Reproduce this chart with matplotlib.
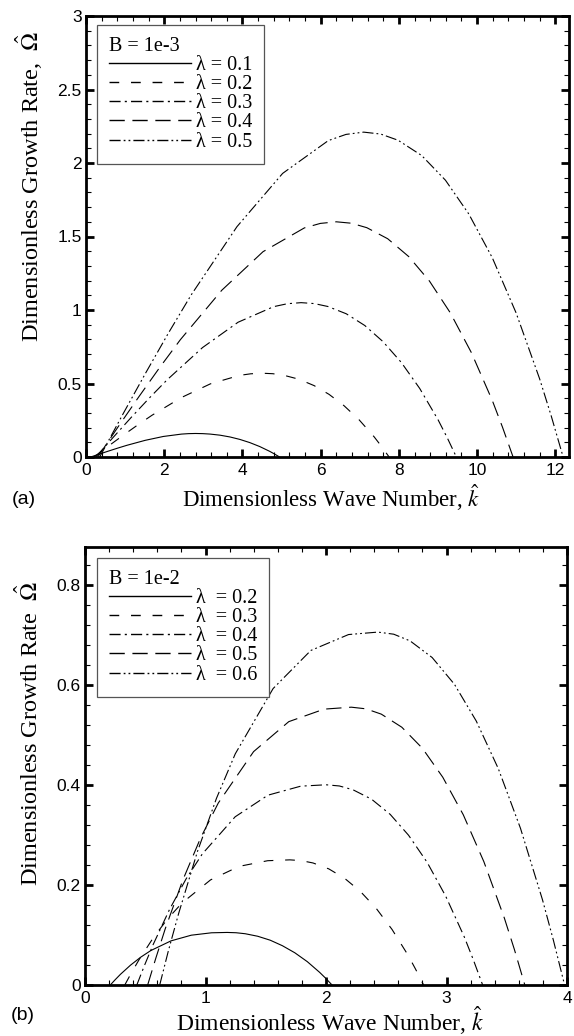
import matplotlib
matplotlib.use("Agg")
import matplotlib.pyplot as plt
from matplotlib.ticker import MultipleLocator, FuncFormatter

plt.rcParams['mathtext.fontset'] = 'stix'
plt.rcParams['lines.scale_dashes'] = False

# ---------------- data: panel (a), B = 1e-3 ----------------
a_title = "B = 1e-3"
a_labels = ["λ = 0.1", "λ = 0.2", "λ = 0.3", "λ = 0.4", "λ = 0.5"]

a_k1 = [0.12, 0.227, 0.352, 0.584, 0.817, 1.049, 1.514, 1.977, 2.441, 2.620, 2.8,
        2.983, 3.171, 3.425, 3.682, 3.933, 4.187, 4.443, 4.696, 4.821, 4.95]
a_w1 = [0, 0.0096, 0.0208, 0.0411, 0.061, 0.0798, 0.1134, 0.1397, 0.1558, 0.1589, 0.16,
        0.1590, 0.156, 0.1485, 0.1363, 0.1197, 0.0981, 0.071, 0.0386, 0.0203, 0]

a_k2 = [0.2, 0.372, 0.572, 0.944, 1.318, 1.69, 2.436, 3.18, 3.924, 4.212, 4.5,
        4.776, 5.061, 5.445, 5.833, 6.213, 6.596, 6.983, 7.367, 7.555, 7.75]
a_w2 = [0, 0.0342, 0.0741, 0.1465, 0.2172, 0.2844, 0.4041, 0.4976, 0.5552, 0.566, 0.57,
        0.5666, 0.5558, 0.529, 0.4856, 0.4264, 0.3494, 0.2531, 0.1374, 0.0724, 0]

a_k3 = [0.25, 0.46, 0.705, 1.158, 1.615, 2.07, 2.98, 3.888, 4.797, 5.148, 5.5,
        5.837, 6.185, 6.654, 7.128, 7.592, 8.061, 8.533, 9.002, 9.232, 9.47]
a_w3 = [0, 0.063, 0.1365, 0.2699, 0.4, 0.524, 0.7445, 0.9167, 1.0227, 1.0427, 1.05,
        1.0437, 1.0238, 0.9744, 0.8946, 0.7854, 0.6437, 0.4662, 0.2531, 0.1334, 0]

a_k4 = [0.3, 0.544, 0.828, 1.355, 1.886, 2.414, 3.472, 4.527, 5.583, 5.991, 6.4,
        6.784, 7.18, 7.714, 8.253, 8.782, 9.315, 9.853, 10.387, 10.649, 10.92]
a_w4 = [0, 0.096, 0.208, 0.4112, 0.6096, 0.7984, 1.1344, 1.3968, 1.5584, 1.589, 1.6,
        1.5904, 1.56, 1.4848, 1.3632, 1.1968, 0.9808, 0.7104, 0.3856, 0.2032, 0]

a_k5 = [0.35, 0.62, 0.935, 1.518, 2.105, 2.69, 3.86, 5.028, 6.196, 6.648, 7.1,
        7.534, 7.98, 8.583, 9.191, 9.788, 10.39, 10.996, 11.598, 11.894, 12.2]
a_w5 = [0, 0.1326, 0.2873, 0.568, 0.842, 1.1028, 1.5669, 1.9293, 2.1525, 2.1945, 2.21,
        2.197, 2.1548, 2.0509, 1.8829, 1.6531, 1.3547, 0.9812, 0.5326, 0.2807, 0]

# ---------------- data: panel (b), B = 1e-2 ----------------
b_title = "B = 1e-2"
b_labels = ["λ  = 0.2", "λ  = 0.3", "λ  = 0.4", "λ  = 0.5", "λ  = 0.6"]

b_k1 = [0.21, 0.249, 0.294, 0.378, 0.462, 0.546, 0.714, 0.882, 1.05, 1.18,
        1.254, 1.330, 1.433, 1.537, 1.638, 1.741, 1.845, 1.947, 1.998, 2.05]
b_w1 = [0, 0.0102, 0.0213, 0.0397, 0.0555, 0.0688, 0.0882, 0.0995, 0.1043, 0.105,
        0.1044, 0.1024, 0.0974, 0.0895, 0.0785, 0.0644, 0.0466, 0.0253, 0.0133, 0]

b_k2 = [0.33, 0.385, 0.449, 0.567, 0.686, 0.805, 1.042, 1.279, 1.516, 1.70,
        1.794, 1.892, 2.023, 2.155, 2.285, 2.416, 2.548, 2.679, 2.743, 2.81]
b_w2 = [0, 0.0243, 0.0507, 0.0945, 0.1323, 0.1638, 0.21, 0.237, 0.2483, 0.25,
        0.2485, 0.2438, 0.232, 0.213, 0.187, 0.1533, 0.111, 0.0603, 0.0318, 0]

b_k3 = [0.43, 0.493, 0.566, 0.702, 0.838, 0.974, 1.246, 1.518, 1.79, 2.0,
        2.111, 2.224, 2.378, 2.533, 2.685, 2.839, 2.993, 3.147, 3.222, 3.30]
b_w3 = [0, 0.0388, 0.081, 0.1512, 0.2116, 0.262, 0.336, 0.3792, 0.3972, 0.40,
        0.3976, 0.39, 0.3712, 0.3408, 0.2992, 0.2452, 0.1776, 0.0964, 0.0508, 0]

b_k4 = [0.52, 0.588, 0.666, 0.812, 0.959, 1.106, 1.399, 1.691, 1.984, 2.21,
        2.332, 2.459, 2.629, 2.8, 2.969, 3.139, 3.31, 3.48, 3.564, 3.65]
b_w4 = [0, 0.0538, 0.1124, 0.2098, 0.2936, 0.3635, 0.4662, 0.5261, 0.5511, 0.555,
        0.5517, 0.5411, 0.515, 0.4729, 0.4151, 0.3402, 0.2464, 0.1338, 0.0705, 0]

b_k5 = [0.62, 0.692, 0.777, 0.933, 1.091, 1.247, 1.561, 1.874, 2.187, 2.43,
        2.562, 2.698, 2.881, 3.066, 3.247, 3.43, 3.614, 3.797, 3.887, 3.98]
b_w5 = [0, 0.0684, 0.1428, 0.2665, 0.3729, 0.4618, 0.5922, 0.6683, 0.7001, 0.705,
        0.7008, 0.6874, 0.6542, 0.6007, 0.5273, 0.4322, 0.313, 0.1699, 0.0895, 0]

# ---------------- styles ----------------
styles = ['-', (0, (7, 8.5)), (0, (8, 3, 1.5, 3)), (0, (11, 5.5)),
          (0, (8, 2.2, 1.3, 2.2, 1.3, 2.2))]
LW = 0.8
SERIF = 'Liberation Serif'
SANS = 'Liberation Sans'

W, H = 574, 1036
fig = plt.figure(figsize=(W / 100, H / 100), dpi=100)


def px_axes(l, t, r, b):
    return fig.add_axes([l / W, 1 - b / H, (r - l) / W, (b - t) / H])


def style_axes(ax, xmaj, xmin, ymaj, ymin):
    ax.xaxis.set_major_locator(MultipleLocator(xmaj))
    ax.xaxis.set_minor_locator(MultipleLocator(xmin))
    ax.yaxis.set_major_locator(MultipleLocator(ymaj))
    ax.yaxis.set_minor_locator(MultipleLocator(ymin))
    fmt = FuncFormatter(lambda v, p: ('%g' % round(v, 6)))
    ax.xaxis.set_major_formatter(fmt)
    ax.yaxis.set_major_formatter(fmt)
    ax.tick_params(which='both', direction='in', top=True, right=True, color='black')
    ax.tick_params(which='major', length=6, width=2, labelsize=12.5)
    ax.tick_params(which='minor', length=3.6, width=0.8)
    ax.tick_params(axis='x', which='major', pad=4)
    ax.tick_params(axis='y', which='major', pad=3)
    for lab in ax.get_xticklabels() + ax.get_yticklabels():
        lab.set_fontfamily(SANS)
    for sp in ax.spines.values():
        sp.set_linewidth(2)


def draw_panel(ax, ks, ws, labels, title, anchor):
    handles = []
    for k, w, ls in zip(ks, ws, styles):
        h, = ax.plot(k, w, color='black', lw=LW, linestyle=ls)
        handles.append(h)
    leg = ax.legend(handles, labels, title=title, loc='upper left',
                    bbox_to_anchor=anchor, borderaxespad=0,
                    prop={'family': SERIF, 'size': 14.5},
                    title_fontproperties={'family': SERIF, 'size': 14.5},
                    alignment='left', frameon=True, fancybox=False,
                    edgecolor='#555555', framealpha=1,
                    handlelength=4.05, handletextpad=0.25, labelspacing=0.0,
                    borderpad=0.6)
    leg.get_frame().set_linewidth(0.9)
    for ln in leg.get_lines():
        ln.set_linewidth(1.0)
    return leg


# ---------------- panel (a) ----------------
ax1 = px_axes(86, 16, 569, 457)
draw_panel(ax1, [a_k1, a_k2, a_k3, a_k4, a_k5], [a_w1, a_w2, a_w3, a_w4, a_w5],
           a_labels, a_title, (11 / 483, 1 - 9 / 441))
ax1.set_xlim(0, 12.35)
ax1.set_ylim(0, 3)
style_axes(ax1, 2, 0.4, 0.5, 0.1)

# ---------------- panel (b) ----------------
ax2 = px_axes(85, 547, 567, 985)
draw_panel(ax2, [b_k1, b_k2, b_k3, b_k4, b_k5], [b_w1, b_w2, b_w3, b_w4, b_w5],
           b_labels, b_title, (12 / 482, 1 - 11 / 438))
ax2.set_xlim(0, 4)
ax2.set_ylim(0, 0.875)
style_axes(ax2, 1, 0.2, 0.2, 0.04)

# ---------------- labels ----------------
fig.text(29 / W, 1 - 186 / H, r'Dimensionless Growth Rate,  $\hat{\Omega}$',
         rotation=90, ha='center', va='center', family=SERIF, fontsize=17.5)
fig.text(29 / W, 1 - 734 / H, r'Dimensionless Growth Rate  $\hat{\Omega}$',
         rotation=90, ha='center', va='center', family=SERIF, fontsize=17.5)
fig.text(331 / W, 1 - 507 / H, r'Dimensionless Wave Number, $\hat{k}$',
         ha='center', va='baseline', family=SERIF, fontsize=16.5)
fig.text(330 / W, 1 - 1031 / H, r'Dimensionless Wave Number, $\hat{k}$',
         ha='center', va='baseline', family=SERIF, fontsize=17)
fig.text(24 / W, 1 - 499 / H, '(a)', ha='center', va='center', family=SANS, fontsize=14)
fig.text(23 / W, 1 - 1015 / H, '(b)', ha='center', va='center', family=SANS, fontsize=14)

fig.savefig('out.png', dpi=100)
